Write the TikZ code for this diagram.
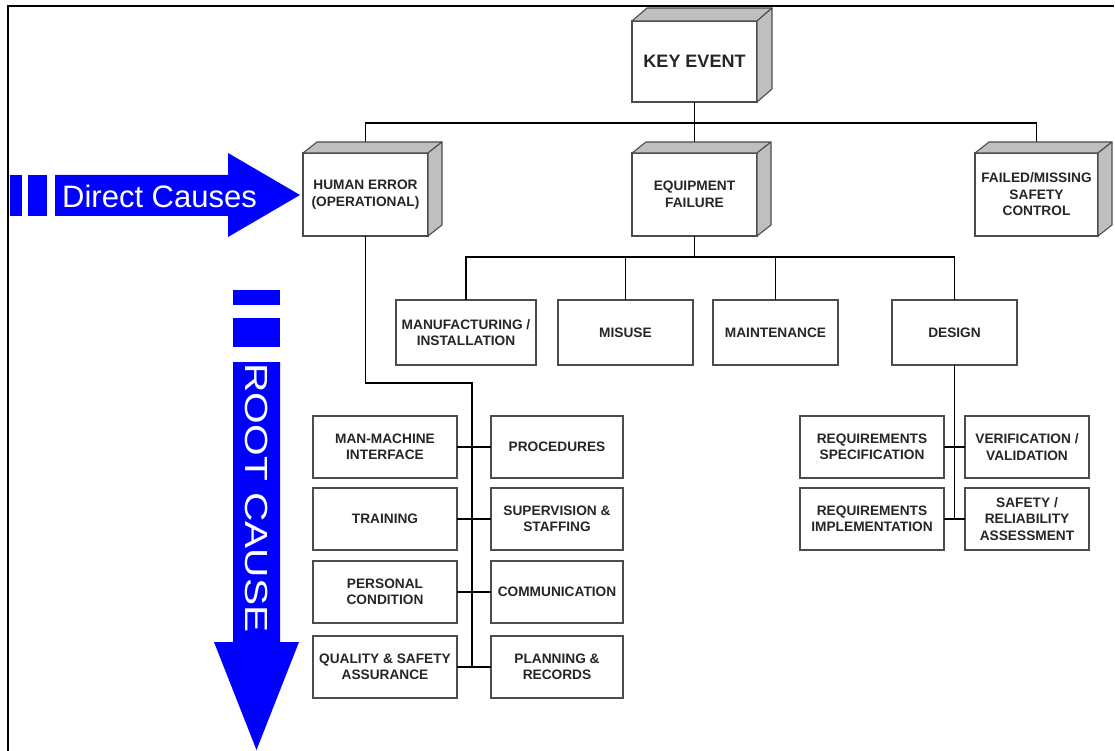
\documentclass[tikz,border=0pt]{standalone}
\usepackage{fontspec}
\setmainfont{Liberation Sans}
\begin{document}
\begin{tikzpicture}[x=1pt,y=-1pt,
  box/.style={draw=black!70, line width=1.1pt, fill=white, outer sep=0pt, inner sep=0pt, text=black!85,
    font=\bfseries\fontsize{13.7}{16.5}\selectfont, align=center, minimum height=62pt},
  cube/.style={box, minimum width=125pt, minimum height=83pt},
  lvl/.style={box, minimum height=65pt},
  face/.style={fill=black!25, draw=black!70, line width=1.1pt, line join=round},
  conn/.style={draw=black, line width=1.1pt},
  bigarrow/.style={fill={rgb,255:red,0;green,0;blue,255}},
  bigtext/.style={text=white, inner sep=0pt, font=\fontsize{31}{36}\selectfont},
]
\useasboundingbox (0,0) rectangle (1115,751);
% frame
\draw[line width=2.8pt] (8,751) -- (8,6) -- (1114,6);

% cubes
\node[cube, font=\bfseries\fontsize{18}{22}\selectfont, minimum height=81pt] (key) at (694.5,61.5) {KEY EVENT};
\node[cube] (human) at (365.5,194.5) {HUMAN ERROR\\(OPERATIONAL)};
\node[cube] (equip) at (694.5,194.5) {EQUIPMENT\\FAILURE};
\node[cube, minimum width=123pt] (failed) at (1036.5,194.5) {FAILED/MISSING\\SAFETY\\CONTROL};

% level 2
\node[lvl, minimum width=140pt] (manuf) at (466,332.5) {MANUFACTURING /\\INSTALLATION};
\node[lvl, minimum width=135pt] (misuse) at (625.5,332.5) {MISUSE};
\node[lvl, minimum width=125pt] (maint) at (775.5,332.5) {MAINTENANCE};
\node[lvl, minimum width=125pt] (design) at (954.5,332.5) {DESIGN};

% human error subtree
\node[box, minimum width=144pt] (mmi) at (385,447) {MAN-MACHINE\\INTERFACE};
\node[box, minimum width=132pt] (proc) at (557,447) {PROCEDURES};
\node[box, minimum width=144pt] (train) at (385,519) {TRAINING};
\node[box, minimum width=132pt] (sup) at (557,519) {SUPERVISION \&\\STAFFING};
\node[box, minimum width=144pt] (pers) at (385,592) {PERSONAL\\CONDITION};
\node[box, minimum width=132pt] (comm) at (557,592) {COMMUNICATION};
\node[box, minimum width=144pt] (qa) at (385,667) {QUALITY \& SAFETY\\ASSURANCE};
\node[box, minimum width=132pt] (plan) at (557,667) {PLANNING \&\\RECORDS};

% design subtree
\node[box, minimum width=144pt] (rspec) at (872,447) {REQUIREMENTS\\SPECIFICATION};
\node[box, minimum width=124pt] (verif) at (1027,447) {VERIFICATION /\\VALIDATION};
\node[box, minimum width=144pt] (rimpl) at (872,519) {REQUIREMENTS\\IMPLEMENTATION};
\node[box, minimum width=124pt] (safety) at (1027,519) {SAFETY /\\RELIABILITY\\ASSESSMENT};

% connectors level 1
\coordinate (j1) at (694.5,123);
\draw[conn] (key.south) -- (j1);
\draw[conn] (human.north) -- (human.north |- j1) -- (failed.north |- j1) -- (failed.north);
\draw[conn] (equip.north) -- (equip.north |- j1);

% connectors level 2
\coordinate (j2) at (694.5,257);
\draw[conn] (equip.south) -- (j2);
\draw[conn] (manuf.north) -- (manuf.north |- j2) -- (design.north |- j2) -- (design.north);
\draw[conn] (misuse.north) -- (misuse.north |- j2);
\draw[conn] (maint.north) -- (maint.north |- j2);

% human subtree connectors
\coordinate (hs) at (472,383);
\draw[conn] (human.south) |- (hs) -- (hs |- qa.east);
\draw[conn] (mmi.east) -- (proc.west);
\draw[conn] (train.east) -- (sup.west);
\draw[conn] (pers.east) -- (comm.west);
\draw[conn] (qa.east) -- (plan.west);

% design subtree connectors
\draw[conn] (design.south) -- (design.south |- rimpl.east);
\draw[conn] (rspec.east) -- (verif.west);
\draw[conn] (rimpl.east) -- (safety.west);

% 3D faces
\foreach \n/\dx/\dy in {key/15/-13, human/14/-11, equip/14/-11, failed/14/-11} {
  \filldraw[face] (\n.north west) -- ++(\dx,\dy) -- ([shift={(\dx,\dy)}]\n.north east) -- (\n.north east) -- cycle;
  \filldraw[face] (\n.north east) -- ([shift={(\dx,\dy)}]\n.north east) -- ([shift={(\dx,\dy)}]\n.south east) -- (\n.south east) -- cycle;
}

% Direct Causes arrow
\fill[bigarrow] (10,175) rectangle (22,216);
\fill[bigarrow] (28,175) rectangle (47,216);
\fill[bigarrow] (55,175) -- (228,175) -- (228,153) -- (300,195) -- (228,237) -- (228,216) -- (55,216) -- cycle;
\node[bigtext, anchor=west] (dc) at (62,196) {Direct Causes};

% Root Cause arrow
\fill[bigarrow] (233,290) rectangle (280,305);
\fill[bigarrow] (233,318) rectangle (280,347);
\fill[bigarrow] (233,362) -- (280,362) -- (280,642) -- (299,642) -- (256.5,750) -- (214,642) -- (233,642) -- cycle;
\node[bigtext, font=\fontsize{32}{36}\selectfont, rotate=-90, xscale=1.27] (rc) at (256.5,498) {ROOT CAUSE};
\end{tikzpicture}
\end{document}
